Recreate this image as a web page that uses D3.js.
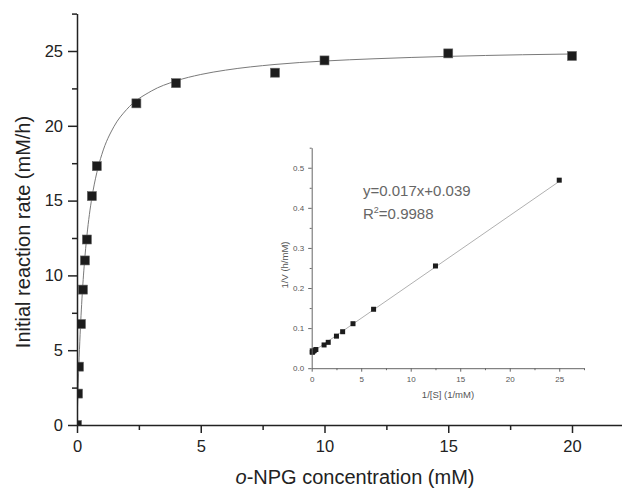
<!DOCTYPE html>
<html><head><meta charset="utf-8">
<script src="https://cdn.jsdelivr.net/npm/d3@7"></script>
<style>body{margin:0;background:#fff}svg{display:block;font-family:"Liberation Sans",Arial,sans-serif}</style>
</head><body><svg id="c" width="624" height="488"></svg>
<script>
// Main plot data
const concentration = [0, 0.04, 0.08, 0.16, 0.24, 0.32, 0.4, 0.6, 0.8, 2.4, 4, 8, 10, 15, 20];
const rate = [0, 2.1, 3.9, 6.75, 9.05, 11.0, 12.4, 15.3, 17.3, 21.5, 22.85, 23.55, 24.37, 24.84, 24.67];
// Fitted curve
const fitS = [0, 0.05, 0.1, 0.2, 0.3, 0.4, 0.5, 0.6, 0.8, 1.0, 1.5, 2.0, 3, 4, 5, 6, 8, 10, 12, 15, 18, 20];
const fitV = [0, 2.8, 5.06, 8.43, 10.84, 12.65, 14.06, 15.18, 16.87, 18.07, 19.97, 21.08, 22.32, 23.0, 23.43, 23.72, 24.1, 24.33, 24.48, 24.64, 24.75, 24.8];
// Inset (Lineweaver-Burk) data
const invS = [0.05, 0.067, 0.1, 0.125, 0.25, 0.42, 1.25, 1.67, 2.5, 3.125, 4.17, 6.25, 12.5, 25];
const invV = [0.0405, 0.0403, 0.041, 0.0425, 0.0438, 0.0466, 0.058, 0.0645, 0.080, 0.091, 0.111, 0.147, 0.255, 0.469];
const lineX = [0.05, 25];
const lineY = [0.040, 0.466];
// Ticks
const mainXTicks = [0, 5, 10, 15, 20];
const mainXMinor = [2.5, 7.5, 12.5, 17.5];
const mainYTicks = [0, 5, 10, 15, 20, 25];
const mainYMinor = [2.5, 7.5, 12.5, 17.5, 22.5, 27.5];
const insetXTicks = [0, 5, 10, 15, 20, 25];
const insetXMinor = [2.5, 7.5, 12.5, 17.5, 22.5, 27.5];
const insetYTicks = [0, 0.1, 0.2, 0.3, 0.4, 0.5];
const insetYMinor = [0.05, 0.15, 0.25, 0.35, 0.45, 0.55];
const eqText = "y=0.017x+0.039";
const r2Value = "=0.9988";

const svg = d3.select("#c");
const x = d3.scaleLinear().domain([0, 22]).range([77, 621.5]);
const y = d3.scaleLinear().domain([0, 27.5]).range([425, 13.6]);

svg.append("defs").append("clipPath").attr("id", "clipMain")
  .append("rect").attr("x", 77).attr("y", 0).attr("width", 548).attr("height", 425);

// fit curve
const fitPts = fitS.map((s, i) => [s, fitV[i]]);
svg.append("path").datum(fitPts)
  .attr("fill", "none").attr("stroke", "#7a7a7a").attr("stroke-width", 1)
  .attr("clip-path", "url(#clipMain)")
  .attr("d", d3.line().x(d => x(d[0])).y(d => y(d[1])).curve(d3.curveMonotoneX));

// main markers
const ms = 9;
svg.append("g").attr("clip-path", "url(#clipMain)").selectAll("rect")
  .data(concentration.map((c, i) => [c, rate[i]])).join("rect")
  .attr("x", d => x(d[0]) - ms / 2).attr("y", d => y(d[1]) - ms / 2)
  .attr("width", ms).attr("height", ms)
  .attr("fill", "#1c1c1c").attr("stroke", "#666").attr("stroke-width", 0.6);

function styleAxis(g, color, w) {
  g.selectAll("path.domain").attr("stroke", color).attr("stroke-width", w);
  g.selectAll("line").attr("stroke", color).attr("stroke-width", w);
}

// main x axis
const gx = svg.append("g").attr("transform", "translate(0,425)")
  .call(d3.axisBottom(x).tickValues(mainXTicks).tickFormat(d3.format("d")).tickSize(8).tickSizeOuter(0).tickPadding(7));
styleAxis(gx, "#222", 1.5);
gx.selectAll("text").attr("font-size", 16.5).attr("fill", "#222").attr("font-family", "Liberation Sans, Arial, sans-serif");
const gxm = svg.append("g").attr("transform", "translate(0,425)")
  .call(d3.axisBottom(x).tickValues(mainXMinor).tickFormat("").tickSize(5).tickSizeOuter(0));
gxm.select("path.domain").remove();
styleAxis(gxm, "#222", 1.5);

// main y axis
const gy = svg.append("g").attr("transform", "translate(77,0)")
  .call(d3.axisLeft(y).tickValues(mainYTicks).tickFormat(d3.format("d")).tickSize(9).tickSizeOuter(0).tickPadding(5));
styleAxis(gy, "#222", 1.5);
gy.selectAll("text").attr("font-size", 16.5).attr("fill", "#222").attr("font-family", "Liberation Sans, Arial, sans-serif");
const gym = svg.append("g").attr("transform", "translate(77,0)")
  .call(d3.axisLeft(y).tickValues(mainYMinor).tickFormat("").tickSize(5).tickSizeOuter(0));
gym.select("path.domain").remove();
styleAxis(gym, "#222", 1.5);

// main labels
svg.append("text").attr("transform", "translate(30,232) rotate(-90)")
  .attr("text-anchor", "middle").attr("font-size", 20).attr("fill", "#222")
  .text("Initial reaction rate (mM/h)");
const xl = svg.append("text").attr("x", 355).attr("y", 484)
  .attr("text-anchor", "middle").attr("font-size", 20).attr("fill", "#222");
xl.append("tspan").attr("font-style", "italic").text("o");
xl.append("tspan").text("-NPG concentration (mM)");

// ===== Inset =====
const ix = d3.scaleLinear().domain([0, 27.5]).range([311.7, 584]);
const iy = d3.scaleLinear().domain([0, 0.55]).range([368.2, 147.7]);

svg.append("path").datum(lineX.map((v, i) => [v, lineY[i]]))
  .attr("fill", "none").attr("stroke", "#b0b0b0").attr("stroke-width", 1)
  .attr("d", d3.line().x(d => ix(d[0])).y(d => iy(d[1])));

const is = 5;
svg.append("g").selectAll("rect")
  .data(invS.map((s, i) => [s, invV[i]])).join("rect")
  .attr("x", d => ix(d[0]) - is / 2).attr("y", d => iy(d[1]) - is / 2)
  .attr("width", is).attr("height", is).attr("fill", "#1c1c1c");

const igx = svg.append("g").attr("transform", "translate(0,368.2)")
  .call(d3.axisBottom(ix).tickValues(insetXTicks).tickFormat(d3.format("d")).tickSize(3.5).tickSizeOuter(0).tickPadding(5));
styleAxis(igx, "#666", 1);
igx.selectAll("text").attr("font-size", 8).attr("fill", "#555").attr("font-family", "Liberation Sans, Arial, sans-serif");
const igxm = svg.append("g").attr("transform", "translate(0,368.2)")
  .call(d3.axisBottom(ix).tickValues(insetXMinor).tickFormat("").tickSize(2).tickSizeOuter(0));
igxm.select("path.domain").remove();
styleAxis(igxm, "#666", 1);

const igy = svg.append("g").attr("transform", "translate(311.7,0)")
  .call(d3.axisLeft(iy).tickValues(insetYTicks).tickFormat(d3.format(".1f")).tickSize(3.5).tickSizeOuter(0).tickPadding(4));
styleAxis(igy, "#666", 1);
igy.selectAll("text").attr("font-size", 8).attr("fill", "#555").attr("font-family", "Liberation Sans, Arial, sans-serif");
const igym = svg.append("g").attr("transform", "translate(311.7,0)")
  .call(d3.axisLeft(iy).tickValues(insetYMinor).tickFormat("").tickSize(2).tickSizeOuter(0));
igym.select("path.domain").remove();
styleAxis(igym, "#666", 1);

svg.append("text").attr("transform", "translate(287.5,265) rotate(-90)")
  .attr("text-anchor", "middle").attr("font-size", 9.5).attr("fill", "#555")
  .text("1/V (h/mM)");
svg.append("text").attr("x", 448).attr("y", 398)
  .attr("text-anchor", "middle").attr("font-size", 9.5).attr("fill", "#555")
  .text("1/[S] (1/mM)");

svg.append("text").attr("x", 363).attr("y", 196).attr("font-size", 15).attr("fill", "#666").text(eqText);
const r2 = svg.append("text").attr("x", 363).attr("y", 219).attr("font-size", 15).attr("fill", "#666");
r2.append("tspan").text("R");
r2.append("tspan").attr("font-size", 9).attr("dy", -6).text("2");
r2.append("tspan").attr("dy", 6).text(r2Value);
</script></body></html>
